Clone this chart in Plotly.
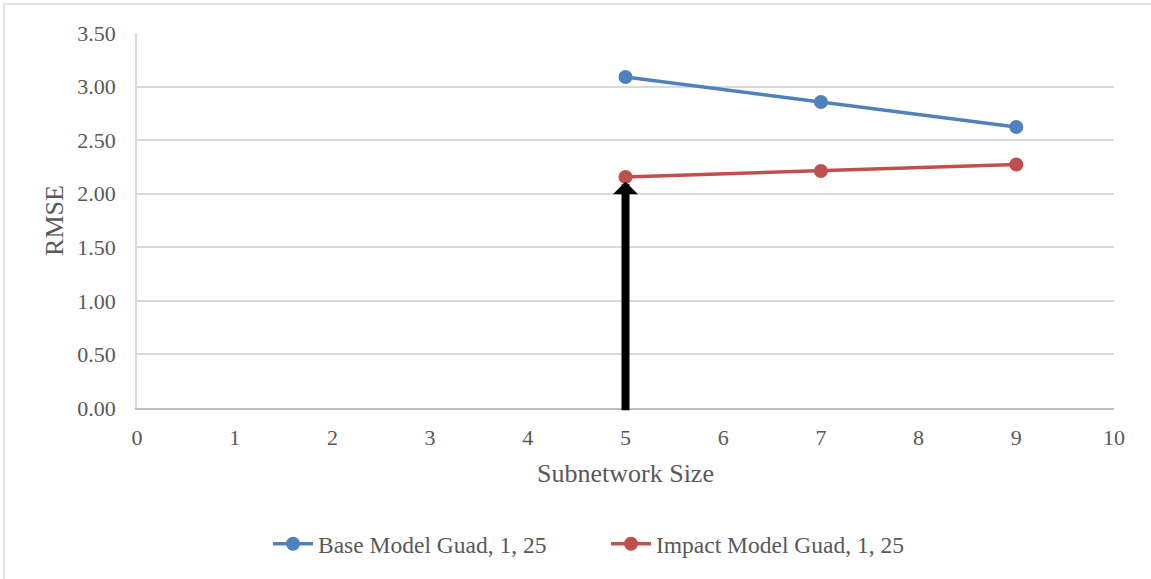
import plotly.graph_objects as go

# Subnetwork sizes and RMSE values for the two models
subnetwork_sizes = [5, 7, 9]
base_rmse = [3.09, 2.856, 2.623]
impact_rmse = [2.156, 2.212, 2.273]

series_names = ["Base Model Guad, 1, 25", "Impact Model Guad, 1, 25"]
series_colors = ["#4f81bd", "#c0504d"]

x_ticks = list(range(0, 11))
y_ticks = [0, 0.5, 1.0, 1.5, 2.0, 2.5, 3.0, 3.5]

FONT = "Liberation Serif, Times New Roman, serif"
TEXT_COLOR = "#595959"

fig = go.Figure()
for name, vals, color in zip(series_names, [base_rmse, impact_rmse], series_colors):
    fig.add_trace(go.Scatter(
        x=subnetwork_sizes, y=vals, name=name, mode="lines+markers",
        line=dict(color=color, width=3.5),
        marker=dict(color=color, size=14),
    ))

# Arrow pointing up at the Impact Model value for size 5
fig.add_annotation(
    x=subnetwork_sizes[0], y=impact_rmse[0] - 0.045,
    ax=subnetwork_sizes[0], ay=-0.035,
    xref="x", yref="y", axref="x", ayref="y",
    showarrow=True, arrowhead=1, arrowsize=0.52, arrowwidth=8,
    arrowcolor="#000000", text="",
)

# Outer chart border (left and top edges visible)
fig.add_shape(
    type="rect", xref="paper", yref="paper",
    x0=(4 - 137) / 977, x1=(1160 - 137) / 977,
    y0=-(590 - 408) / 375, y1=1 + (33 - 4) / 375,
    line=dict(color="#d9d9d9", width=1.5), fillcolor="rgba(0,0,0,0)",
    layer="below",
)

fig.update_layout(
    width=1151, height=579,
    margin=dict(l=137, r=37, t=33, b=171),
    paper_bgcolor="white", plot_bgcolor="white",
    font=dict(family=FONT, color=TEXT_COLOR, size=22),
    showlegend=True,
    legend=dict(
        orientation="h", x=(268 - 137) / 977, y=-0.3627,
        xanchor="left", yanchor="middle",
        font=dict(family=FONT, size=23.5, color=TEXT_COLOR),
        entrywidth=283, entrywidthmode="pixels",
        itemwidth=40, tracegroupgap=0,
    ),
    xaxis=dict(
        range=[0, 10], tickvals=x_ticks, ticktext=[str(t) for t in x_ticks],
        showgrid=False, zeroline=False,
        showline=True, linecolor="#bfbfbf", linewidth=1.5,
        ticks="", ticklabelstandoff=9,
        tickfont=dict(family=FONT, size=22, color=TEXT_COLOR),
        title=dict(text="Subnetwork Size", standoff=15,
                   font=dict(family=FONT, size=26, color=TEXT_COLOR)),
    ),
    yaxis=dict(
        range=[0, 3.5], tickvals=y_ticks,
        ticktext=[f"{v:.2f}" for v in y_ticks],
        showgrid=True, gridcolor="#d9d9d9", gridwidth=1.5,
        zeroline=False,
        showline=True, linecolor="#d9d9d9", linewidth=1.5,
        ticks="", ticklabelstandoff=15,
        tickfont=dict(family=FONT, size=22, color=TEXT_COLOR),
        title=dict(text="RMSE", standoff=6,
                   font=dict(family=FONT, size=26, color=TEXT_COLOR)),
    ),
)

fig.write_html("out.html")
